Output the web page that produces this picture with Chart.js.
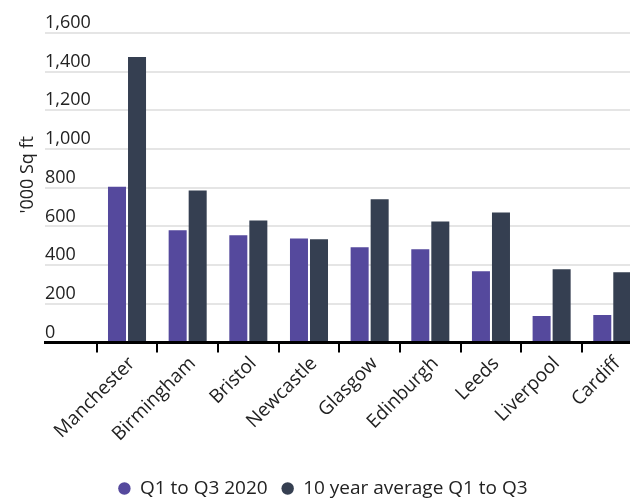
<!DOCTYPE html>
<html>
<head>
<meta charset="utf-8">
<style>
  html, body { margin: 0; padding: 0; background: #ffffff; overflow: hidden; }
  #wrap { width: 630px; height: 502px; overflow: hidden; position: relative; }
  canvas { display: block; }
</style>
</head>
<body>
<div id="wrap"><canvas id="c" width="630" height="508"></canvas></div>
<script src="https://cdn.jsdelivr.net/npm/chart.js@4.4.1/dist/chart.umd.min.js"></script>
<script>
// ---- data ----
const cities = ['Manchester', 'Birmingham', 'Bristol', 'Newcastle', 'Glasgow', 'Edinburgh', 'Leeds', 'Liverpool', 'Cardiff'];
const q1ToQ3_2020 = [805, 580, 554, 538, 492, 482, 368, 137, 142];
const tenYearAvgQ1ToQ3 = [1476, 786, 631, 533, 740, 626, 672, 379, 363];
const seriesLabels = ['Q1 to Q3 2020', '10 year average Q1 to Q3'];
const yAxisTitle = "'000 Sq ft";

const purple = '#55499d';
const slate = '#353f51';
const textColor = '#222222';

Chart.defaults.font.family = "'Open Sans', 'Noto Sans', sans-serif";
Chart.defaults.color = textColor;

const toPoints = (vals) => vals.map((v, i) => ({ x: i, y: v }));

// nudge the legend block slightly right, as in the reference
const legendShift = {
  id: 'legendShift',
  afterLayout(chart) {
    if (chart.legend) { chart.legend.left += 8; chart.legend.right += 8; }
  }
};

new Chart(document.getElementById('c'), {
  type: 'bar',
  data: {
    datasets: [
      { label: seriesLabels[0], data: toPoints(q1ToQ3_2020), backgroundColor: purple, borderWidth: 0,
        categoryPercentage: 0.66, barPercentage: 0.9 },
      { label: seriesLabels[1], data: toPoints(tenYearAvgQ1ToQ3), backgroundColor: slate, borderWidth: 0,
        categoryPercentage: 0.66, barPercentage: 0.9 }
    ]
  },
  plugins: [legendShift],
  options: {
    responsive: false,
    animation: false,
    locale: 'en-US',
    layout: { padding: { top: 7, left: 0, right: 0, bottom: 0 } },
    plugins: {
      tooltip: { enabled: false },
      legend: {
        position: 'bottom',
        labels: {
          usePointStyle: true, pointStyle: 'circle',
          boxWidth: 12, boxHeight: 8.8, padding: 14,
          color: textColor, font: { size: 19 }
        }
      }
    },
    scales: {
      x: {
        type: 'linear',
        min: -1.352, max: 8.292,
        offset: false,
        afterBuildTicks: (s) => { s.ticks = cities.map((_, i) => ({ value: i })); },
        afterFit: (s) => { s.paddingLeft = 0; s.paddingRight = 0; s.height = 122.5; },
        grid: { display: true, drawOnChartArea: false, drawTicks: true, tickLength: 10,
                color: '#000000', lineWidth: 2, offset: true },
        border: { display: true, color: '#000000', width: 3, z: 1 },
        ticks: {
          autoSkip: false, minRotation: 45, maxRotation: 45, padding: 0, labelOffset: 5,
          color: textColor, font: { size: 19 },
          callback: (v) => cities[Math.round(v)]
        }
      },
      y: {
        min: 0, max: 1734,
        afterFit: (s) => { s.width = 45; s.paddingTop = 0; s.paddingBottom = 0; },
        grid: { color: '#e5e5e5', lineWidth: 2, drawTicks: false },
        border: { display: false },
        ticks: { stepSize: 200, includeBounds: false, mirror: true, padding: 0, labelOffset: -10,
                 color: textColor, font: { size: 18 } },
        title: { display: true, text: yAxisTitle, color: textColor, font: { size: 18 },
                 padding: { top: 17, bottom: 0 } }
      }
    }
  }
});
</script>
</body>
</html>
